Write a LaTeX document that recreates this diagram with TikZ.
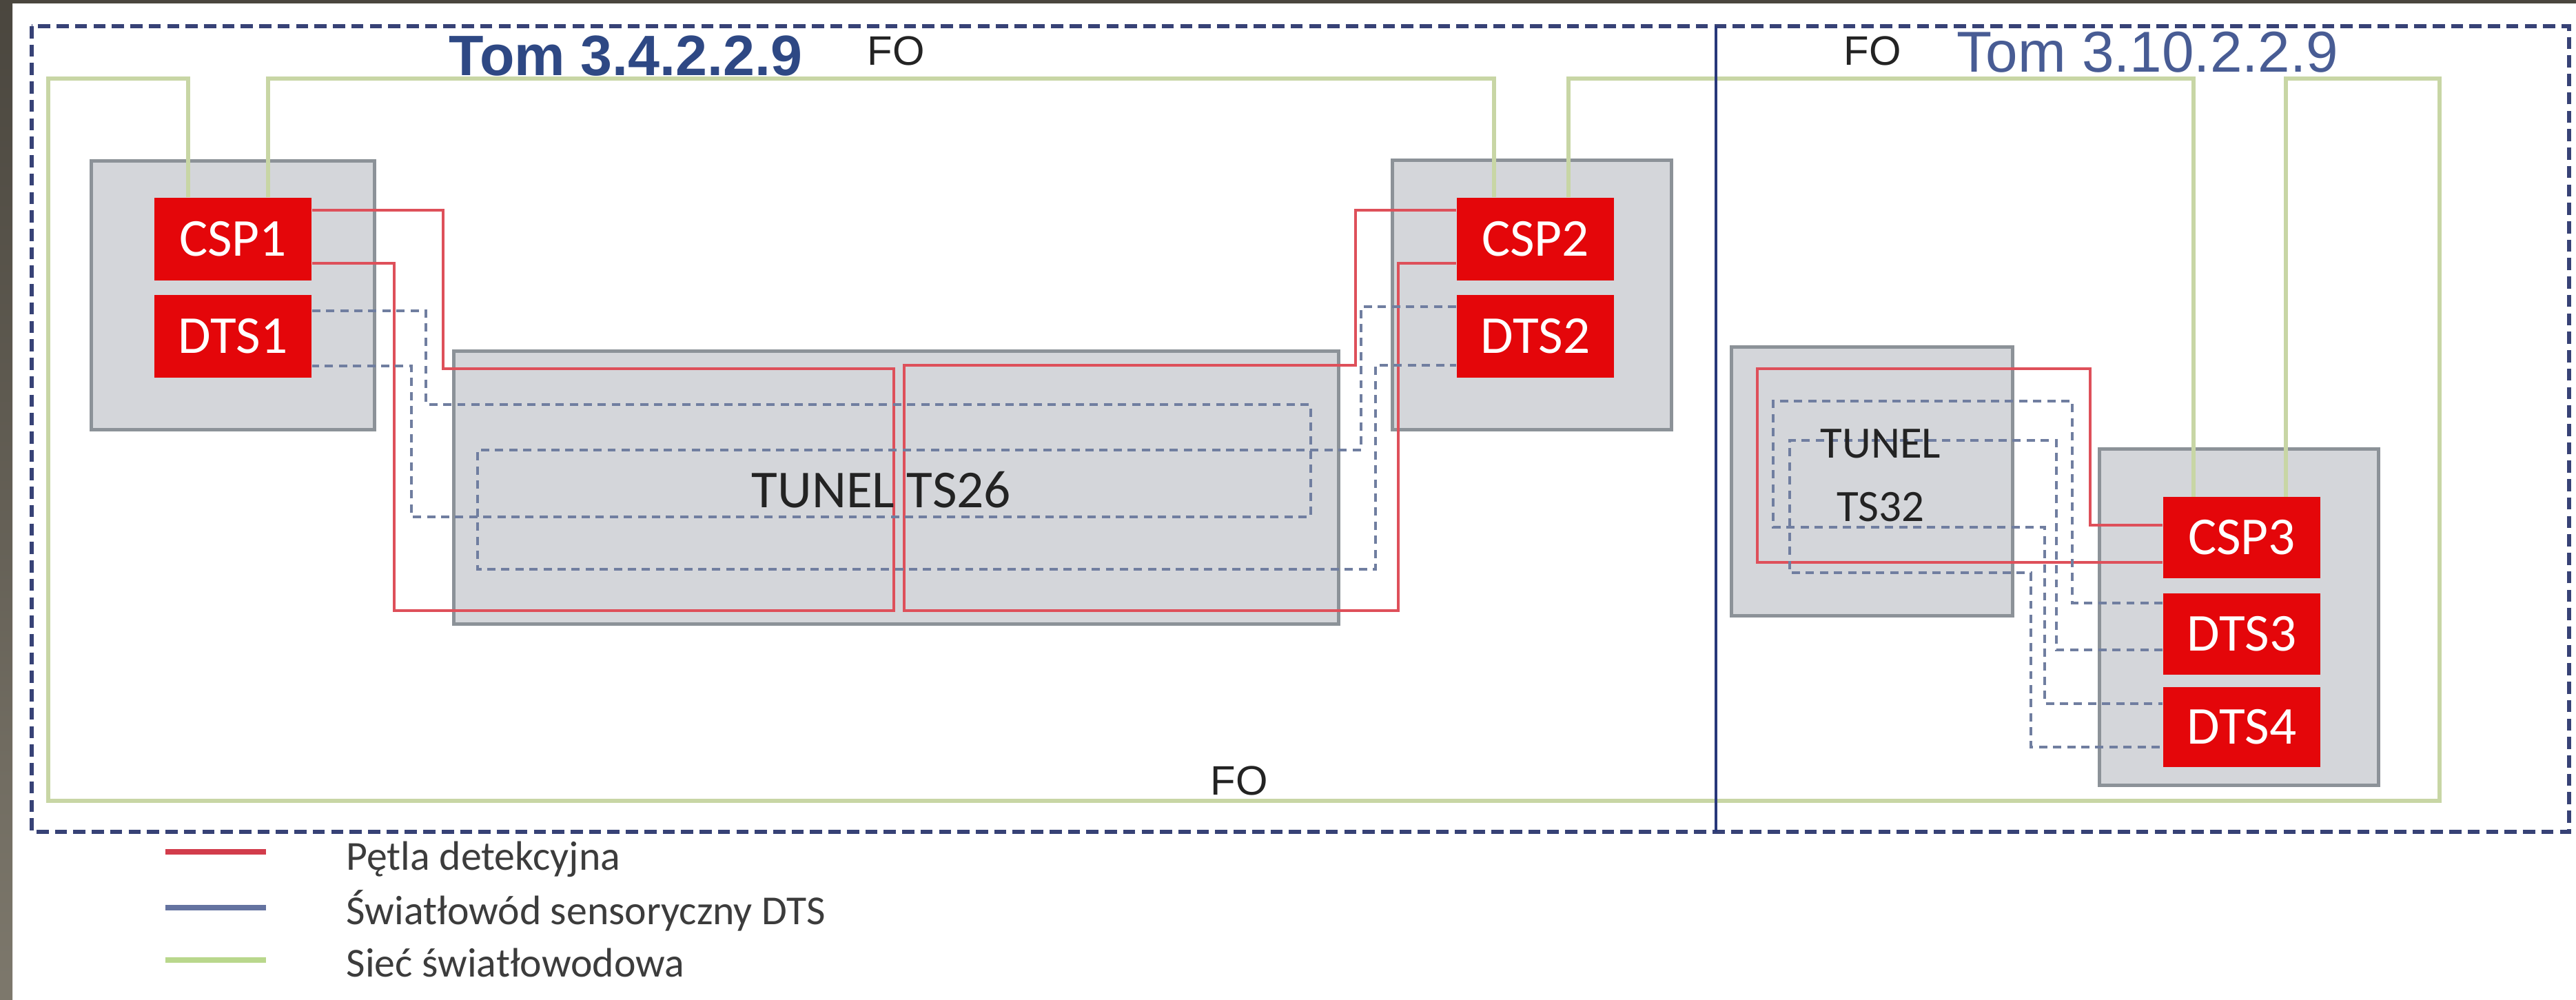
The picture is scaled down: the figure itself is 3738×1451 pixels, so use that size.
\documentclass[tikz,border=0pt]{standalone}
\usepackage{fontspec}
\setmainfont{Carlito}
\newfontfamily\arialfont{Liberation Sans}
\usetikzlibrary{calc}
\definecolor{boxred}{RGB}{228,6,10}
\definecolor{boxgray}{RGB}{212,214,218}
\definecolor{boxgrayline}{RGB}{140,146,152}
\definecolor{loopred}{RGB}{222,80,90}
\definecolor{dtsblue}{RGB}{112,126,160}
\definecolor{fibergreen}{RGB}{200,214,165}
\definecolor{framenavy}{RGB}{55,66,118}
\definecolor{dividernavy}{RGB}{40,56,122}
\definecolor{tomblue}{RGB}{46,72,132}
\definecolor{tomblue2}{RGB}{72,92,148}
\definecolor{stripdark}{RGB}{74,70,62}
\definecolor{striplight}{RGB}{125,120,108}
\definecolor{legred}{RGB}{210,60,75}
\definecolor{legblue}{RGB}{100,115,160}
\definecolor{leggreen}{RGB}{185,215,140}
\definecolor{txtdark}{RGB}{35,35,35}
\definecolor{legtxt}{RGB}{60,60,60}
\tikzset{
  graybox/.style={draw=boxgrayline, fill=boxgray, line width=1.4pt, inner sep=0pt, minimum width=#1},
  redbox/.style={fill=boxred, inner sep=0pt, minimum width=2.28cm, minimum height=1.2cm,
     text=white, font=\fontsize{22}{26}\selectfont},
  redloop/.style={draw=loopred, line width=1.1pt},
  dtsline/.style={draw=dtsblue, line width=1pt, dash pattern=on 3.4pt off 2.4pt},
  fiber/.style={draw=fibergreen, line width=1.6pt},
  frameline/.style={draw=framenavy, line width=1.6pt, dash pattern=on 5pt off 2.6pt},
  divider/.style={draw=dividernavy, line width=1.2pt},
  legline/.style={line width=2.2pt},
  legtext/.style={anchor=base west, inner sep=0pt, text=legtxt, font=\fontsize{17}{20}\selectfont},
  fotext/.style={anchor=base west, inner sep=0pt, text=txtdark, font=\arialfont\fontsize{17}{20}\selectfont},
}
\begin{document}
\begin{tikzpicture}[x=0.01cm,y=-0.01cm]
\useasboundingbox (0,0) rectangle (3738,1451);
% background
\fill[white] (0,0) rectangle (3738,1451);
\shade[top color=stripdark, bottom color=striplight] (0,0) rectangle (18,1451);
\fill[stripdark] (0,0) rectangle (3738,5);

% gray boxes
\node[graybox=4.10cm, minimum height=3.89cm] (g1) at (338,428.5) {};
\node[graybox=4.04cm, minimum height=3.90cm] (g2) at (2223,428) {};
\node[graybox=12.83cm, minimum height=3.95cm] (ts26) at (1300.5,707.5) {};
\node[graybox=4.07cm, minimum height=3.89cm] (ts32) at (2716.5,698.5) {};
\node[graybox=4.04cm, minimum height=4.87cm] (g3) at (3249,895.5) {};

% red device boxes
\node[redbox] (csp1) at (338,347) {CSP1};
\node[redbox] (dts1) at (338,488) {DTS1};
\node[redbox] (csp2) at (2228,347) {CSP2};
\node[redbox] (dts2) at (2228,488) {DTS2};
\node[redbox, minimum height=1.17cm] (csp3) at (3253,780) {CSP3};
\node[redbox, minimum height=1.17cm] (dts3) at (3253,920) {DTS3};
\node[redbox, minimum height=1.15cm] (dts4) at (3253,1055) {DTS4};

% green fibre network
\draw[fiber] ($(csp1.north west)+(50,0)$) |- (70,114) |- (3540,1162) |- (3317,114) -- (3317,0 |- csp3.north);
\draw[fiber] ($(csp1.north west)+(166,0)$) |- (2168,114) -- (2168,0 |- csp2.north);
\draw[fiber] ($(csp2.north west)+(163,0)$) |- (3183,114) -- (3183,0 |- csp3.north);

% red detection loops
\draw[redloop] ($(csp1.north east)+(0,19)$) -| (643,535) -| (1297,886) -| (572,382) -- (csp1.east |- 0,382);
\draw[redloop] ($(csp2.north west)+(0,19)$) -| (1967,530) -| (1312,886) -| (2029,382) -- (csp2.west |- 0,382);
\draw[redloop] ($(csp3.north west)+(0,41)$) -| (3033,535) -| (2550,816) -- (csp3.west |- 0,816);

% DTS sensing fibres
\draw[dtsline] (dts1.east |- 0,451) -| (618,587) -| (1902,750) -| (597,531) -- (dts1.east |- 0,531);
\draw[dtsline] (dts2.west |- 0,445) -| (1975,653) -| (693,826) -| (1996,530) -- (dts2.west |- 0,530);
\draw[dtsline] (dts3.west |- 0,875) -| (3007,582) -| (2573,765) -| (2967,1021) -- (dts4.west |- 0,1021);
\draw[dtsline] (dts3.west |- 0,943) -| (2984,639) -| (2597,831) -| (2947,1084) -- (dts4.west |- 0,1084);

% tunnel labels
\node[anchor=base, inner sep=0pt, text=txtdark, font=\fontsize{22}{26}\selectfont] (lts26) at (1279,736) {TUNEL TS26};
\node[align=center, inner sep=0pt, text=txtdark, font=\fontsize{18.5}{26}\selectfont] (lts32) at (2729,690) {TUNEL\\TS32};

% frames
\draw[frameline] (46,38) rectangle (3728,1207);
\coordinate (divtop) at (2490,38);
\coordinate (divbot) at (2490,1207);
\draw[divider] (divtop) -- (divbot);

% titles and FO labels
\node[anchor=base west, inner sep=0pt, text=tomblue, font=\arialfont\bfseries\fontsize{23.5}{28}\selectfont] (tom1) at (651,109) {Tom 3.4.2.2.9};
\node[anchor=base west, inner sep=0pt, text=tomblue2, font=\arialfont\fontsize{23.8}{28}\selectfont] (tom2) at (2839,104) {Tom 3.10.2.2.9};
\node[fotext] (fo1) at (1258,94) {FO};
\node[fotext] (fo2) at (2675,94) {FO};
\node[fotext] (fo3) at (1756,1153) {FO};

% legend
\coordinate (lr1) at (240,1236); \coordinate (lr2) at (386,1236);
\coordinate (lb1) at (240,1317); \coordinate (lb2) at (386,1317);
\coordinate (lg1) at (240,1393); \coordinate (lg2) at (386,1393);
\draw[legline, legred] (lr1) -- (lr2);
\draw[legline, legblue] (lb1) -- (lb2);
\draw[legline, leggreen] (lg1) -- (lg2);
\node[legtext] (leg1) at (502,1262) {Pętla detekcyjna};
\node[legtext] (leg2) at (502,1341) {Światłowód sensoryczny DTS};
\node[legtext] (leg3) at (502,1417) {Sieć światłowodowa};
\end{tikzpicture}
\end{document}
